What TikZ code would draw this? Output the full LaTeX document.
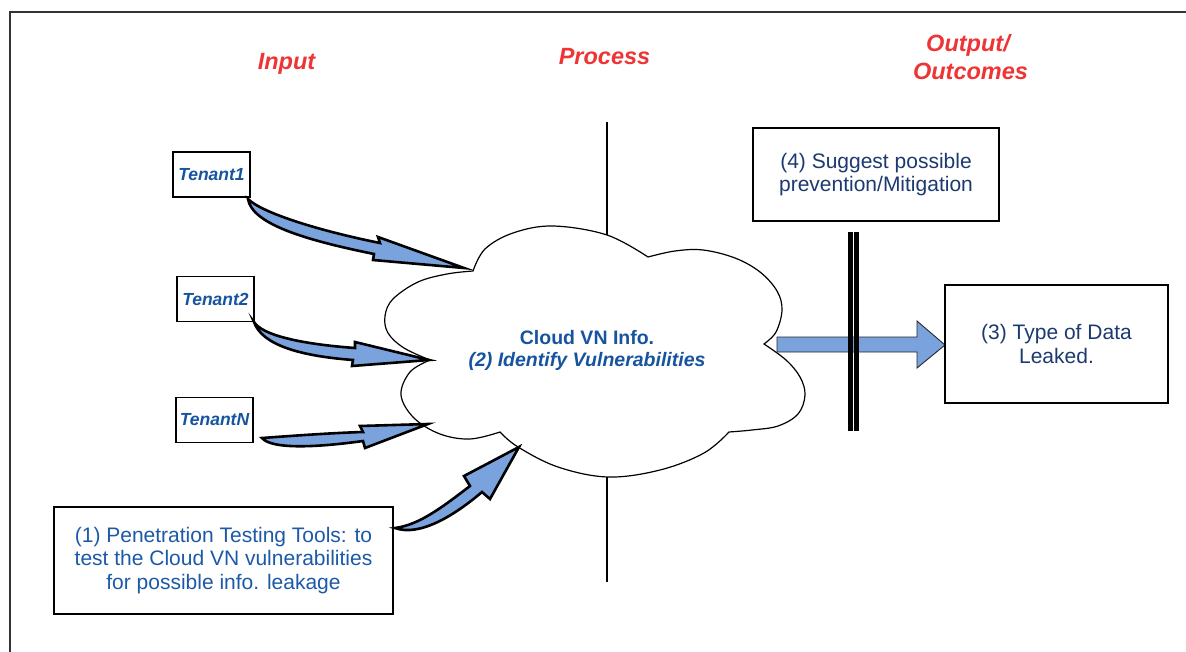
\documentclass[tikz,border=0pt]{standalone}
\usepackage{fontspec}
\setmainfont{Liberation Sans}
\definecolor{headred}{RGB}{238,52,52}
\definecolor{tblue}{RGB}{22,84,160}
\definecolor{pblue}{RGB}{28,90,168}
\definecolor{navy}{RGB}{28,58,112}
\definecolor{arrowblue}{RGB}{122,163,222}
\begin{document}
\begin{tikzpicture}[x=1pt,y=-1pt,
  heading/.style={text=headred, font=\fontsize{23.5}{28}\selectfont\bfseries\itshape, align=center, inner sep=0pt},
  tenantbox/.style={draw=black, line width=1.2pt, fill=white, inner sep=0pt,
    minimum width=77pt, minimum height=45pt, text=tblue,
    font=\fontsize{17.5}{20}\selectfont\bfseries\itshape},
  infobox/.style={draw=black, line width=1.2pt, fill=white, inner sep=0pt, align=center,
    font=\fontsize{21}{23.5}\selectfont},
  fatarrow/.style={draw=black, line width=2.6pt, fill=arrowblue, line join=miter},
  flatarrow/.style={draw=black!85, line width=0.9pt, fill=arrowblue},
  cloudline/.style={draw=black, line width=1.2pt, fill=white},
  divider/.style={draw=black, line width=1.1pt},
  bar/.style={draw=black, line width=4.8pt}]
\useasboundingbox (0,0) rectangle (1186,652);

% frame
\draw[black!80, line width=1.4pt] (10,652) -- (10,12) -- (1186,12);

% column headings
\node[heading, anchor=base] (hin) at (286.5,70) {Input};
\node[heading, anchor=base] (hproc) at (604.5,65) {Process};
\node[heading, anchor=base] (hout1) at (968,52) {Output/};
\node[heading, anchor=base] (hout2) at (970.5,80) {Outcomes};

% divider between input and process
\coordinate (dtop) at (607,122);
\coordinate (dbot) at (607,582);
\draw[divider] (dtop) -- (dbot);

% output arrow out of the cloud
\draw[flatarrow] (777,337) -- (917,337) -- (917,321) -- (945,345) -- (917,368) -- (917,352) -- (777,352) -- cycle;

% cloud
\draw[cloudline]
  plot[smooth, tension=0.6] coordinates {(473,271) (485,249) (513,233) (553,226) (607,235) (648,257)}
  -- plot[smooth, tension=0.6] coordinates {(648,257) (675,251) (703,250) (735,258) (760,272) (777,291) (782,310) (776,332) (764,344)}
  -- plot[smooth, tension=0.6] coordinates {(764,344) (786,360) (800,377) (805,395) (798,414) (778,426) (752,430) (729,432)}
  -- plot[smooth, tension=0.6] coordinates {(729,432) (704,453) (660,470) (608,477) (558,467) (518,447) (500,432)}
  -- plot[smooth, tension=0.6] coordinates {(500,432) (470,439) (440,434) (414,418) (401,395) (410,372) (430,360)}
  -- plot[smooth, tension=0.6] coordinates {(430,360) (404,348) (388,333) (385,316) (393,299) (418,282) (447,274) (473,271)}
  -- cycle;
\node[align=center, text=tblue, font=\fontsize{19.5}{22}\selectfont\bfseries, inner sep=0pt] (cloud) at (587,350)
  {Cloud VN Info.\\ \itshape (2) Identify Vulnerabilities};

% double barrier
\draw[bar] (850.5,232) -- (850.5,431);
\draw[bar] (856.8,232) -- (856.8,431);

% boxes
\node[tenantbox] (t1) at (211.5,174.5) {Tenant1};
\node[tenantbox] (t2) at (215.5,299) {Tenant2};
\node[tenantbox] (tn) at (214.5,420) {TenantN};
\node[infobox, text=pblue, minimum width=339pt, minimum height=107pt] (pen) at (223.5,560.5)
  {(1) Penetration Testing Tools: to\\test the Cloud VN vulnerabilities\\for possible info. leakage};
\node[infobox, text=navy, minimum width=246pt, minimum height=93pt] (mit) at (876,174.5)
  {(4) Suggest possible\\prevention/Mitigation};
\node[infobox, text=navy, minimum width=223pt, minimum height=118pt] (leak) at (1056.5,344)
  {(3) Type of Data\\Leaked.};

% curved input arrows into the cloud
\draw[fatarrow] (248,199) .. controls (262,213) and (320,231) .. (380,243)
  -- (378,237) -- (464,268) -- (373,260) -- (374,254)
  .. controls (305,240) and (252,224) .. (248,199) -- cycle;
\draw[fatarrow] (254,322) .. controls (262,335) and (300,344) .. (355,348)
  -- (355,342) -- (429,360) -- (352,366) -- (353,360)
  .. controls (300,356) and (262,345) .. (254,322) -- cycle;
\draw[fatarrow] (262,438) .. controls (290,436) and (330,433) .. (363,432)
  -- (360,426) -- (428,424) -- (365,448) -- (363,441)
  .. controls (320,447) and (272,450) .. (262,438) -- cycle;
\draw[fatarrow] (395,528) .. controls (420,525) and (445,505) .. (470,486)
  -- (464,476) -- (519,447) -- (490,499) -- (482,492)
  .. controls (455,515) and (420,537) .. (395,528) -- cycle;
\end{tikzpicture}
\end{document}
